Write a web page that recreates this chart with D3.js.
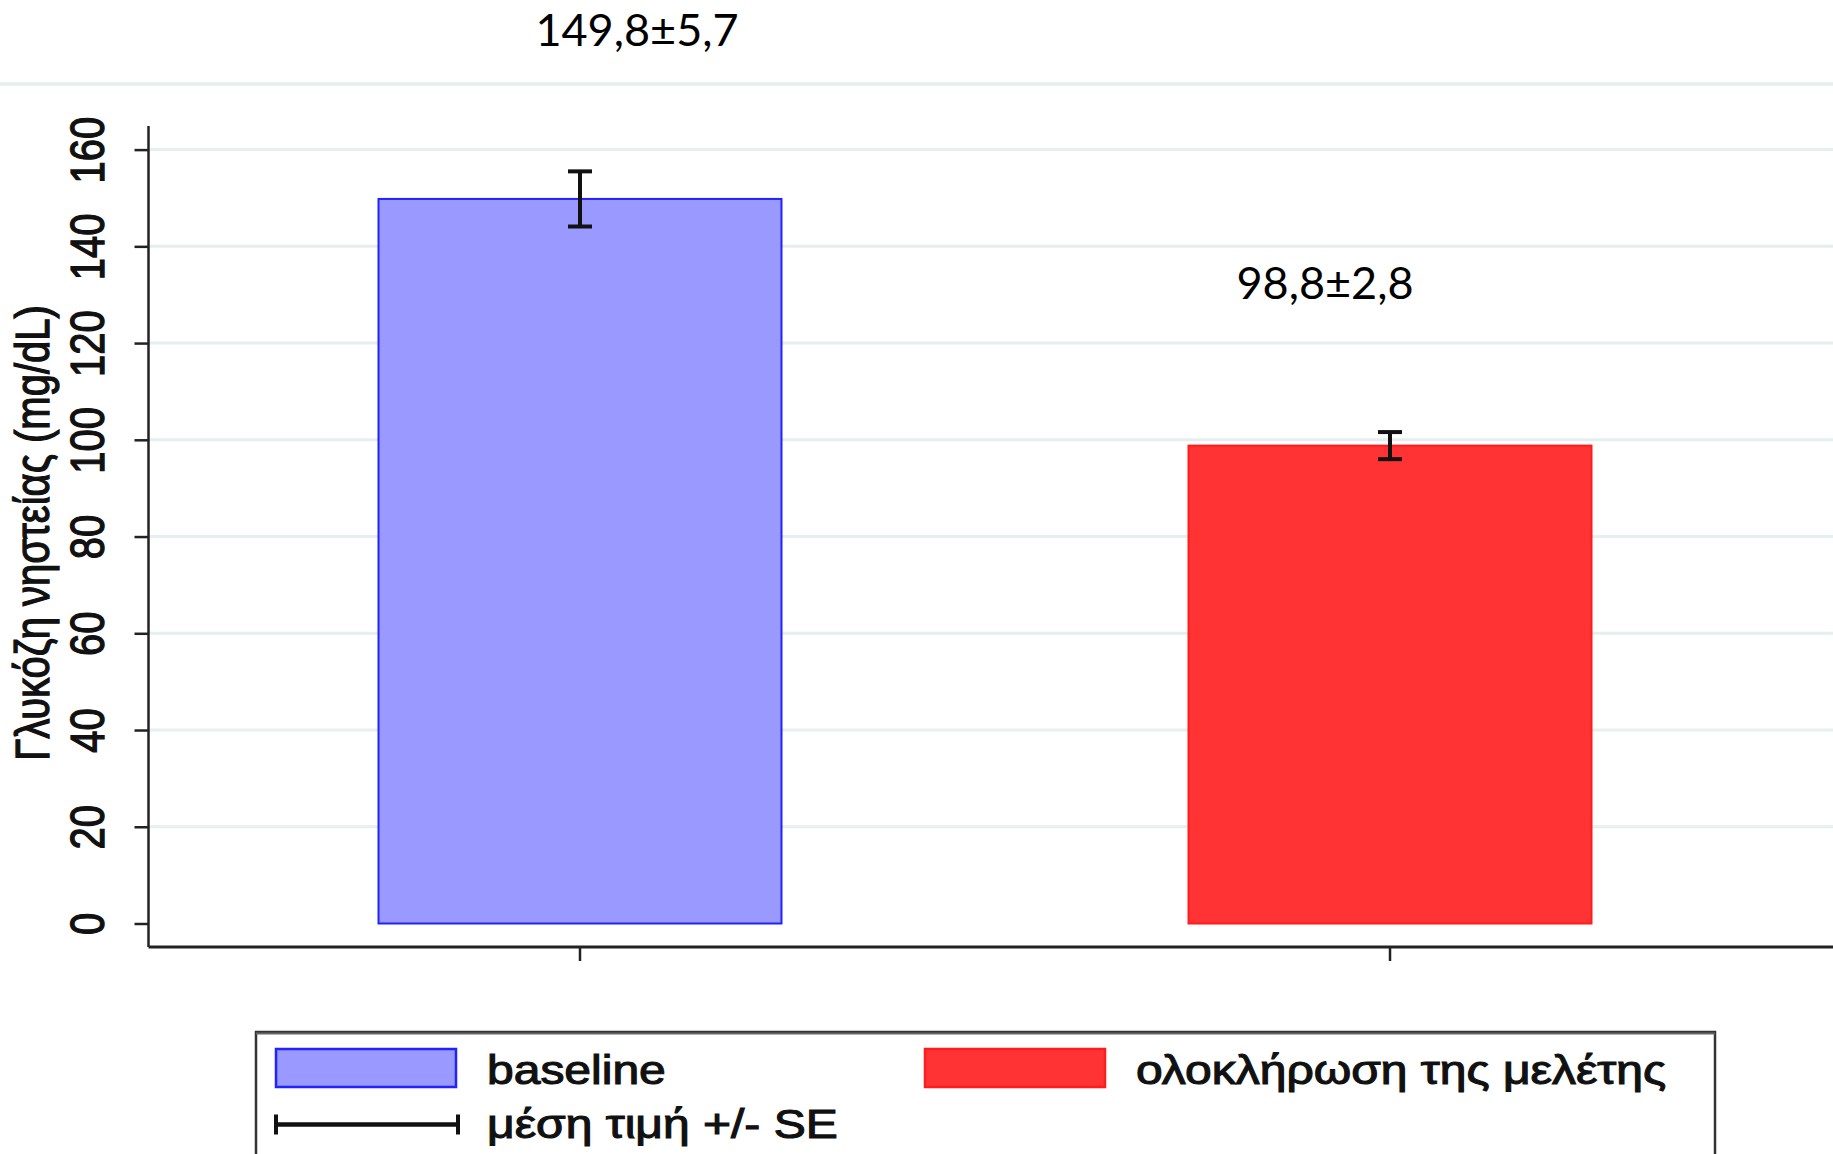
<!DOCTYPE html>
<html>
<head>
<meta charset="utf-8">
<script src="https://cdn.jsdelivr.net/npm/d3@7"></script>
<style>
  html, body { margin: 0; padding: 0; background: #fff; }
  svg { display: block; }
</style>
</head>
<body>
<svg id="chart" width="1833" height="1154"></svg>
<script>
// Fasting glucose before and at the end of the study (mean ± SE)
const categories = ["baseline", "ολοκλήρωση της μελέτης"];
const means = [149.8, 98.8];
const se = [5.7, 2.8];
const yTicks = [0, 20, 40, 60, 80, 100, 120, 140, 160];
const yTitle = "Γλυκόζη νηστείας (mg/dL)";
const errLegendLabel = "μέση τιμή +/- SE";
const fills = ["#9999ff", "#ff3333"];
const strokes = ["#2222ff", "#ff1c1c"];

const W = 1833, H = 1154;
const svg = d3.select("#chart");

const statFont = "'Liberation Sans', Arial, sans-serif";
const labelFont = "Lato, 'Open Sans', sans-serif";
const sx = 1.2; // horizontal stretch of the exported graph text

const axisX = 148.5, axisY = 947;

// slightly heavier text, as in the exported graph
function statText(sel) {
  return sel.attr("font-family", statFont)
    .attr("font-size", 40)
    .attr("fill", "#111")
    .attr("stroke", "#111")
    .attr("stroke-width", 1.1);
}

const y = d3.scaleLinear().domain([0, 160]).range([923.5, 149.6]);
const x = d3.scaleBand()
  .domain(categories)
  .range([176, 1794])
  .paddingInner(0.5025)
  .paddingOuter(0.25);

// frame line above the plot
svg.append("line")
  .attr("x1", 0).attr("x2", W).attr("y1", 84).attr("y2", 84)
  .attr("stroke", "#e6eef0").attr("stroke-width", 3.5);

// horizontal grid
svg.append("g").selectAll("line")
  .data(yTicks.filter(t => t > 0))
  .join("line")
  .attr("x1", axisX).attr("x2", W)
  .attr("y1", d => y(d)).attr("y2", d => y(d))
  .attr("stroke", "#e6eef0").attr("stroke-width", 3);

// bars
svg.append("g").selectAll("rect")
  .data(categories)
  .join("rect")
  .attr("x", d => x(d))
  .attr("width", x.bandwidth())
  .attr("y", (d, i) => y(means[i]))
  .attr("height", (d, i) => y(0) - y(means[i]))
  .attr("fill", (d, i) => fills[i])
  .attr("stroke", (d, i) => strokes[i])
  .attr("stroke-width", 2);

// error bars
const cap = 12;
const eb = svg.append("g").attr("stroke", "#111").attr("stroke-width", 4).attr("fill", "none");
categories.forEach((c, i) => {
  const cx = x(c) + x.bandwidth() / 2;
  const y1 = y(means[i] + se[i]), y2 = y(means[i] - se[i]);
  eb.append("line").attr("x1", cx).attr("x2", cx).attr("y1", y1).attr("y2", y2);
  eb.append("line").attr("x1", cx - cap).attr("x2", cx + cap).attr("y1", y1).attr("y2", y1);
  eb.append("line").attr("x1", cx - cap).attr("x2", cx + cap).attr("y1", y2).attr("y2", y2);
});

// y axis
const yAxis = d3.axisLeft(y).tickValues(yTicks).tickSize(14).tickSizeOuter(0);
const gy = svg.append("g").attr("transform", `translate(${axisX},0)`).call(yAxis);
gy.select(".domain").remove();
gy.selectAll(".tick line").attr("stroke", "#222").attr("stroke-width", 2.5);
gy.selectAll(".tick text")
  .attr("x", null).attr("dy", null)
  .attr("text-anchor", "middle")
  .attr("transform", `translate(-45,0) scale(${sx},1) rotate(-90)`)
  .call(statText);
svg.append("line")
  .attr("x1", axisX).attr("x2", axisX).attr("y1", 126).attr("y2", axisY)
  .attr("stroke", "#222").attr("stroke-width", 2.5);

// x axis
const xAxis = d3.axisBottom(x).tickSize(14).tickSizeOuter(0).tickFormat("");
const gx = svg.append("g").attr("transform", `translate(0,${axisY})`).call(xAxis);
gx.select(".domain").remove();
gx.selectAll(".tick line").attr("stroke", "#222").attr("stroke-width", 2.5);
svg.append("line")
  .attr("x1", axisX).attr("x2", W).attr("y1", axisY).attr("y2", axisY)
  .attr("stroke", "#222").attr("stroke-width", 3);

// y axis title
svg.append("text")
  .attr("transform", `translate(49,533) scale(${sx},1) rotate(-90)`)
  .attr("text-anchor", "middle")
  .call(statText)
  .text(yTitle);

// value annotations
const fmt = v => d3.format(".1f")(v).replace(".", ",");
const annot = [{ dx: 57, y: 46 }, { dx: -65, y: 299 }];
svg.append("g").selectAll("text")
  .data(categories)
  .join("text")
  .attr("x", (d, i) => x(d) + x.bandwidth() / 2 + annot[i].dx)
  .attr("y", (d, i) => annot[i].y)
  .attr("text-anchor", "middle")
  .attr("font-family", labelFont)
  .attr("font-size", 45)
  .attr("fill", "#000")
  .text((d, i) => `${fmt(means[i])}±${fmt(se[i])}`);

// legend
const lg = svg.append("g");
lg.append("rect")
  .attr("x", 256).attr("y", 1032).attr("width", 1459).attr("height", 140)
  .attr("fill", "#fff").attr("stroke", "#333").attr("stroke-width", 2.5);
lg.append("line")
  .attr("x1", 256).attr("x2", 1715).attr("y1", 1033.5).attr("y2", 1033.5)
  .attr("stroke", "#666").attr("stroke-width", 2);
const swX = [276, 925];
categories.forEach((c, i) => {
  lg.append("rect")
    .attr("x", swX[i]).attr("y", 1049).attr("width", 180).attr("height", 38)
    .attr("fill", fills[i]).attr("stroke", strokes[i]).attr("stroke-width", 2.5);
  lg.append("text")
    .attr("transform", `translate(${swX[i] + 211},1084) scale(${sx},1)`)
    .call(statText)
    .text(c);
});
const ly = 1124.5;
lg.append("line").attr("x1", 276).attr("x2", 458).attr("y1", ly).attr("y2", ly)
  .attr("stroke", "#111").attr("stroke-width", 4.5);
[276, 458].forEach(px => lg.append("line")
  .attr("x1", px).attr("x2", px).attr("y1", ly - 10).attr("y2", ly + 10)
  .attr("stroke", "#111").attr("stroke-width", 4));
lg.append("text")
  .attr("transform", `translate(487,1138) scale(${sx},1)`)
  .call(statText)
  .text(errLegendLabel);
</script>
</body>
</html>
